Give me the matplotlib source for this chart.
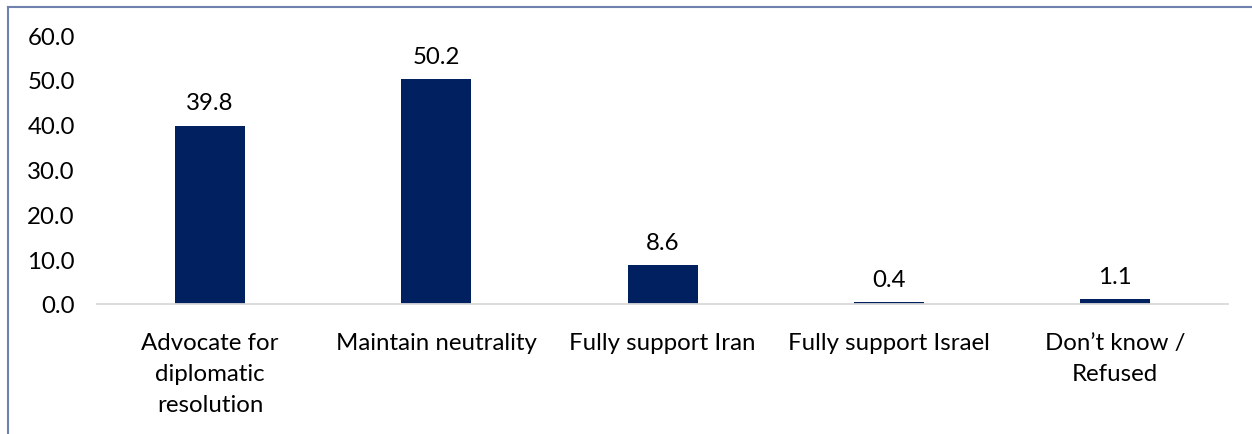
import matplotlib
matplotlib.use("Agg")
import matplotlib.pyplot as plt
from matplotlib.lines import Line2D

categories = ["Advocate for\ndiplomatic\nresolution", "Maintain neutrality",
              "Fully support Iran", "Fully support Israel", "Don\u2019t know /\nRefused"]
values = [39.8, 50.2, 8.6, 0.4, 1.1]
yticks = [0, 10, 20, 30, 40, 50, 60]

plt.rcParams['font.family'] = ['Lato', 'DejaVu Sans']
FS = 17.3

fig = plt.figure(figsize=(12.52, 4.35), dpi=100)
ax = fig.add_axes([0.0775, 0.299, 0.9035, 0.618])

bar_color = "#002060"
x = range(len(categories))
bars = ax.bar(x, values, width=0.31, color=bar_color)
for xi, v in zip(x, values):
    ax.annotate(f"{v:.1f}", (xi, v), xytext=(0, 9), textcoords="offset points",
                ha="center", va="bottom", fontsize=FS, color="#000000")

ax.set_xlim(-0.5, len(categories) - 0.5)
ax.set_ylim(0, 60)
ax.set_yticks(yticks)
ax.set_yticklabels([f"{t:.1f}" for t in yticks], fontsize=FS)
ax.set_xticks(list(x))
ax.set_xticklabels(categories, fontsize=FS, linespacing=1.6, va="top")
ax.tick_params(axis="both", length=0, colors="#000000")
ax.tick_params(axis="y", pad=16)
ax.tick_params(axis="x", pad=20)

for side in ["top", "right", "left"]:
    ax.spines[side].set_visible(False)
ax.spines["bottom"].set_color("#D9D9D9")
ax.spines["bottom"].set_linewidth(1.3)

# frame around the chart (left and top edges)
W, H = 1252, 435
frame_color = "#7081AD"
fig.add_artist(Line2D([7.5 / W, 7.5 / W], [0, 1 - 7.5 / H], color=frame_color,
                      lw=1.5, transform=fig.transFigure))
fig.add_artist(Line2D([7.5 / W, 1], [1 - 7.5 / H, 1 - 7.5 / H], color=frame_color,
                      lw=1.5, transform=fig.transFigure))

fig.savefig("out.png", dpi=100)
